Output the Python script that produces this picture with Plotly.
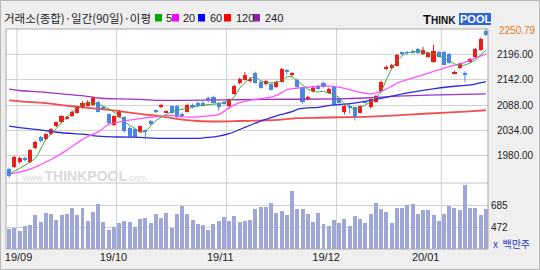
import plotly.graph_objects as go

# ---------------- data ----------------
days = list(range(92))
opens = [1951,1956,1966,1974,1966,1996,2019,2015,2026,2043,2051,2059,2064,2072,2083,2087,2089,2095,2083,2068,
         2045,2062,2062,2040,2036,2030,2034,2053,2076,2083,2073,2085,2085,2070,2074,2089,2093,2093,2101,2106,
         2093,2095,2085,2112,2134,2142,2141,2157,2138,2132,2132,2127,2138,2161,2154,2142,2125,2100,2117,2129,
         2136,2114,2127,2102,2074,2085,2083,2072,2095,2083,2095,2119,2165,2167,2172,2199,2201,2203,2208,2197,
         2191,2180,2201,2201,2197,2156,2167,2157,2180,2191,2206,2245]
highs = [1955,1980,1978,1978,1994,2012,2022,2028,2039,2053,2066,2065,2077,2086,2096,2099,2106,2098,2086,2070,
         2066,2077,2064,2042,2038,2045,2036,2056,2078,2091,2077,2087,2088,2072,2091,2091,2095,2096,2106,2108,
         2095,2097,2102,2131,2146,2158,2148,2159,2140,2142,2134,2140,2167,2165,2158,2144,2127,2108,2127,2131,
         2138,2125,2129,2104,2089,2091,2085,2087,2097,2102,2110,2140,2172,2176,2197,2201,2203,2206,2210,2212,
         2201,2216,2203,2203,2199,2161,2178,2160,2188,2210,2231,2251]
lows = [1933,1954,1963,1968,1964,1994,2009,2013,2024,2041,2049,2057,2062,2070,2081,2085,2087,2072,2077,2047,
        2043,2060,2030,2019,2019,2028,2015,2045,2071,2081,2071,2070,2060,2062,2072,2081,2083,2085,2093,2091,
        2076,2089,2083,2110,2132,2140,2136,2134,2123,2130,2119,2125,2136,2153,2148,2125,2091,2098,2115,2121,
        2125,2112,2085,2091,2068,2070,2055,2070,2091,2081,2093,2117,2163,2165,2170,2194,2196,2198,2197,2195,
        2189,2178,2189,2172,2176,2153,2165,2138,2178,2189,2204,2235]
closes = [1937,1977,1975,1972,1992,2009,2011,2026,2036,2051,2064,2062,2074,2083,2093,2095,2102,2074,2079,2049,
          2064,2074,2032,2021,2021,2043,2032,2047,2074,2089,2075,2072,2062,2064,2089,2083,2085,2087,2099,2093,
          2083,2091,2100,2129,2144,2153,2143,2136,2125,2140,2121,2138,2165,2159,2156,2127,2095,2106,2125,2123,
          2127,2123,2089,2093,2087,2083,2062,2085,2093,2100,2108,2138,2170,2174,2195,2197,2199,2201,2199,2205,
          2199,2203,2191,2174,2178,2158,2176,2152,2186,2208,2229,2238]
volumes = [453,463,429,479,488,584,518,603,597,541,584,594,659,584,653,532,616,699,525,446,
           473,515,532,522,473,547,557,515,600,564,610,463,594,672,594,541,498,488,439,498,
           532,567,532,574,525,532,541,643,669,669,702,610,626,584,817,643,643,594,525,610,
           498,479,541,508,551,482,574,551,515,594,702,643,616,508,653,653,685,695,594,633,
           633,584,532,594,675,659,633,879,653,653,584,643]

ma5_d = [0,5,7,9,11,14,16,17,19,21,22,24,25,26,28,30,31,33,35,36,38,40,42,43,44,46,47,48,50,52,53,54,55,57,58,59,
         60,62,63,64,66,67,69,70,71,72,73,74,75,76,78,79,80,81,83,84,85,86,87,88,89,90,91]
ma5_v = [1941,1975,2015,2038,2062,2089,2093,2090,2080,2065,2053,2038,2031,2032,2055,2068,2074,2079,2083,2086,2089,
         2091,2097,2106,2124,2145,2148,2140,2135,2140,2148,2148,2140,2122,2117,2116,2117,2110,2104,2091,2079,2082,
         2095,2103,2117,2142,2165,2181,2193,2199,2203,2201,2199,2197,2188,2182,2176,2172,2173,2178,2184,2195,2205]
ma20_d = [0,2,5,8,11,14,17,19,22,25,28,31,33,36,40,42,44,47,50,52,53,55,58,60,62,65,67,69,71,73,74,76,78,80,82,84,87,89,91]
ma20_v = [1941,1945,1956,1972,1992,2015,2031,2047,2054,2059,2063,2066,2063,2063,2068,2082,2093,2100,2105,2114,2121,
          2124,2127,2129,2128,2121,2115,2112,2117,2128,2135,2142,2149,2156,2163,2170,2179,2188,2197]
ma60_d = [0,2,6,10,14,17,21,25,29,33,36,38,40,42,44,46,48,50,52,54,55,57,59,61,65,69,73,76,80,84,88,91]
ma60_v = [2043,2040,2035,2029,2026,2022,2020,2019,2017,2017,2017,2019,2022,2027,2036,2045,2054,2061,2068,2074,2079,
          2082,2083,2087,2091,2098,2107,2114,2121,2127,2131,2138]
ma120_d = [0,2,6,10,14,17,21,25,29,33,36,40,44,48,52,55,59,63,68,74,80,87,91]
ma120_v = [2098,2096,2093,2088,2083,2080,2075,2069,2064,2057,2054,2053,2054,2055,2057,2060,2061,2062,2063,2066,2070,2074,2077]
ma240_d = [0,2,6,10,14,17,21,25,29,33,48,63,68,74,80,91]
ma240_v = [2122,2119,2116,2112,2108,2103,2101,2100,2098,2098,2100,2101,2103,2107,2109,2112]

price_ticks = [1980, 2034, 2088, 2142, 2196]
vol_ticks = [472, 685]
month_labels = ["19/09", "19/10", "19/11", "19/12", "20/01"]
month_label_pos = [1.8, 19.9, 40.3, 60.5, 79.5]
month_starts = [1.5, 20.5, 41.5, 62.5, 82.5]
last_price = "2250.79"
title_text = "거래소(종합)·일간(90일)·이평"
ma_names = ["5", "20", "60", "120", "240"]

# ---------------- styles ----------------
RED = "#ee1c1c"
BLUE = "#4a86e8"
W, H = 540, 270
L, R, T, B = 6, 52, 29, 21
PW, PH = W - L - R, H - T - B


def px(x):
    return (x - L) / PW


def py(y):
    return (H - B - y) / PH


fig = go.Figure()

# volume
fig.add_trace(go.Bar(x=days, y=volumes, yaxis="y2", width=0.76,
                     marker=dict(color="#9ea7d8", line=dict(width=0)), showlegend=False))

# moving averages
for d, v, col, w in [(ma240_d, ma240_v, "#9933cc", 1.3), (ma120_d, ma120_v, "#f05050", 1.8),
                     (ma60_d, ma60_v, "#2a2ae0", 1.3), (ma20_d, ma20_v, "#ff55ff", 1.3),
                     (ma5_d, ma5_v, "#3aaa3a", 1.0)]:
    fig.add_trace(go.Scatter(x=d, y=v, mode="lines", line=dict(color=col, width=w, shape="spline", smoothing=0.6),
                             showlegend=False, hoverinfo="skip"))

# candles
for up, col in [(True, RED), (False, BLUE)]:
    sel = [i for i in days if (closes[i] >= opens[i]) == up]
    wx, wy = [], []
    for i in sel:
        wx += [i, i, None]
        wy += [lows[i], highs[i], None]
    fig.add_trace(go.Scatter(x=wx, y=wy, mode="lines", line=dict(color=col, width=1),
                             showlegend=False, hoverinfo="skip"))
    fig.add_trace(go.Bar(x=sel, base=[min(opens[i], closes[i]) for i in sel],
                         y=[abs(closes[i] - opens[i]) for i in sel], width=0.78,
                         marker=dict(color=col, line=dict(width=0)), showlegend=False))

shapes = []
# vertical month grid
for m in month_starts:
    shapes.append(dict(type="line", xref="x", yref="paper", x0=m, x1=m, y0=0, y1=1,
                       line=dict(color="#d0d0d0", width=1), layer="below"))
# panel separator & frame
shapes.append(dict(type="line", xref="paper", yref="paper", x0=0, x1=1, y0=0.3, y1=0.3,
                   line=dict(color="#c4c4c4", width=1)))
shapes.append(dict(type="rect", xref="paper", yref="paper", x0=0, x1=1, y0=0, y1=1,
                   line=dict(color="#a8a8a8", width=1)))
shapes.append(dict(type="rect", xref="paper", yref="paper", x0=px(0.5), x1=px(539.5), y0=py(0.5), y1=py(269.5),
                   line=dict(color="#b8b8b8", width=1)))
# legend squares
leg_cols = ["#00a800", "#ff00ff", "#0000ff", "#ff0000", "#8822aa"]
leg_x = [155, 172, 198, 224, 253]
lab_x = [164, 181, 208, 234, 263]
for c, x0 in zip(leg_cols, leg_x):
    shapes.append(dict(type="rect", xref="paper", yref="paper", x0=px(x0), x1=px(x0 + 7), y0=py(14), y1=py(21.5),
                       fillcolor=c, line=dict(width=0)))
# logo box
shapes.append(dict(type="rect", xref="paper", yref="paper", x0=px(459), x1=px(491), y0=py(13), y1=py(25),
                   fillcolor="#2f64d8", line=dict(width=0)))

ann = []
ann.append(dict(text=title_text, x=px(2), y=py(18), xref="paper", yref="paper", xanchor="left", yanchor="middle",
                showarrow=False, font=dict(family="Noto Sans CJK KR", size=11.5, color="#222222")))
for nm, x0 in zip(ma_names, lab_x):
    ann.append(dict(text=nm, x=px(x0), y=py(18), xref="paper", yref="paper", xanchor="left", yanchor="middle",
                    showarrow=False, font=dict(family="Liberation Sans", size=11, color="#222222")))
ann.append(dict(text="T<span style='font-size:10px'>HINK</span>", x=px(458), y=py(19.5), xref="paper", yref="paper",
                xanchor="right", yanchor="middle", showarrow=False,
                font=dict(family="Liberation Sans", size=13, color="#111111", weight="bold")))
ann.append(dict(text="POOL", x=px(475), y=py(19.5), xref="paper", yref="paper", xanchor="center", yanchor="middle",
                showarrow=False, font=dict(family="Liberation Sans", size=11, color="#ffffff", weight="bold")))
ann.append(dict(text=last_price, x=px(497), y=py(30.5), xref="paper", yref="paper", xanchor="left", yanchor="middle",
                showarrow=False, font=dict(family="Liberation Sans", size=10, color="#e8781e")))
ann.append(dict(text="x  백만주", x=px(491), y=py(243), xref="paper", yref="paper", xanchor="left", yanchor="middle",
                showarrow=False, font=dict(family="Noto Sans CJK KR", size=10, color="#2a3cc8")))
ann.append(dict(text="<span style='font-size:9px'>www.</span><b>THINKPOOL</b><span style='font-size:9px'>.com</span>",
                x=px(20), y=py(176), xref="paper", yref="paper", xanchor="left", yanchor="middle",
                showarrow=False, font=dict(family="Liberation Sans", size=14, color="#dadada")))

fig.update_layout(
    width=W, height=H, autosize=False,
    margin=dict(l=L, r=R, t=T, b=B, pad=0),
    paper_bgcolor="#efefef", plot_bgcolor="#ffffff",
    barmode="overlay", bargap=0, showlegend=False,
    shapes=shapes, annotations=ann,
    xaxis=dict(range=[-0.6, 91.4], showgrid=False, zeroline=False, showline=False, anchor="y2",
               tickvals=month_label_pos, ticktext=month_labels, ticks="",
               tickfont=dict(family="Liberation Sans", size=11, color="#222222")),
    yaxis=dict(domain=[0.3, 1], range=[1922, 2250], side="right", showgrid=True, gridcolor="#d2d2d2",
               zeroline=False, showline=False, tickvals=price_ticks, anchor="x",
               ticktext=[f"{v:.2f}" for v in price_ticks], ticks="", ticklabelstandoff=8,
               tickfont=dict(family="Liberation Sans", size=10, color="#222222")),
    yaxis2=dict(domain=[0, 0.3], range=[259, 898], side="right", showgrid=True, gridcolor="#d2d2d2",
                zeroline=False, showline=False, tickvals=vol_ticks, ticktext=[str(v) for v in vol_ticks],
                ticks="", ticklabelstandoff=2, anchor="x",
                tickfont=dict(family="Liberation Sans", size=10, color="#222222")),
)

fig.write_html("out.html")
